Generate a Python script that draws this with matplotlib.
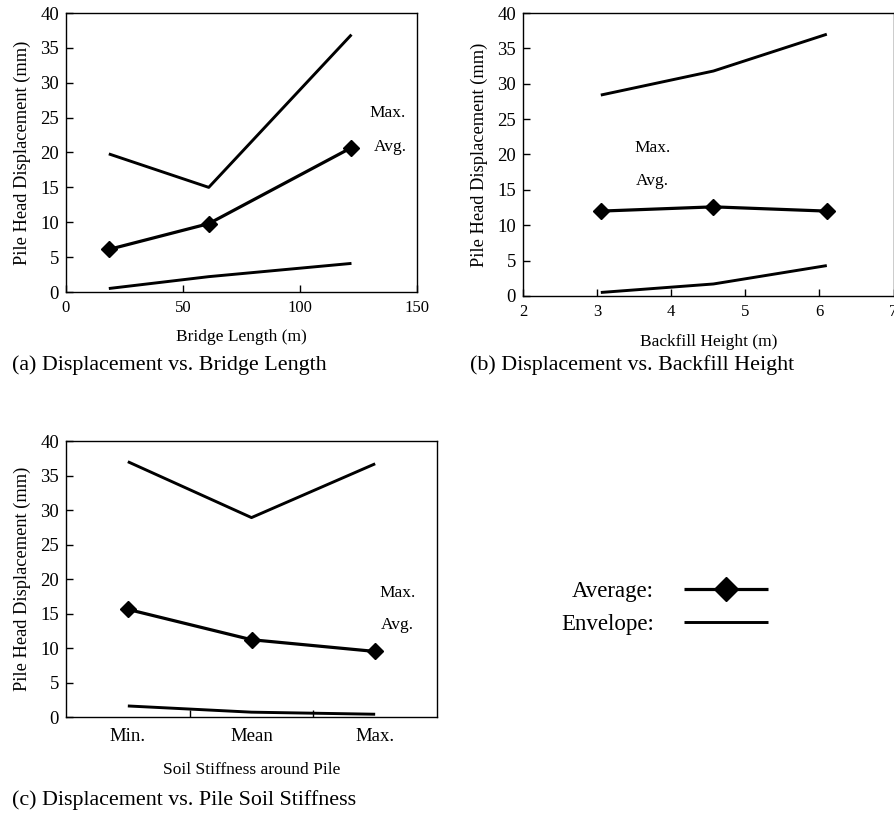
import matplotlib.pyplot as plt

plt.rcParams['font.family'] = ['Liberation Serif', 'DejaVu Serif']

# bridge length study
length_m = [18.3, 61.0, 122.0]
length_max = [19.8, 15.0, 36.9]
length_avg = [6.1, 9.8, 20.7]
length_min = [0.5, 2.2, 4.1]

# backfill height study
backfill_m = [3.05, 4.57, 6.1]
backfill_max = [28.4, 31.8, 37.0]
backfill_avg = [12.0, 12.6, 12.0]
backfill_min = [0.5, 1.7, 4.3]

# soil stiffness around pile
stiffness_cats = ['Min.', 'Mean', 'Max.']
stiffness_max = [37.0, 28.9, 36.7]
stiffness_avg = [15.6, 11.2, 9.5]
stiffness_min = [1.6, 0.7, 0.4]

W, H = 894, 813
fig = plt.figure(figsize=(W / 100, H / 100), dpi=100)


def box(l, t, r, b):
    # pixel box -> figure fraction rect
    return [l / W, 1 - b / H, (r - l) / W, (b - t) / H]


def draw(ax, x, mx, avg, mn):
    env, = ax.plot(x, mx, color='black', lw=2.1, solid_capstyle='butt')
    ax.plot(x, mn, color='black', lw=2.1, solid_capstyle='butt')
    av, = ax.plot(x, avg, color='black', lw=2.3, marker='D', ms=8,
                  solid_capstyle='butt')
    ax.set_ylim(0, 40)
    ax.set_yticks(range(0, 41, 5))
    ax.tick_params(axis='y', direction='in', length=5, width=1, pad=5,
                   labelsize=13.5, right=False)
    ax.tick_params(axis='x', direction='in', length=5, width=1, labelsize=12,
                   top=False, pad=6)
    ax.set_ylabel('Pile Head Displacement (mm)', fontsize=13.2, labelpad=7)
    for s in ax.spines.values():
        s.set_linewidth(1.0)
    return av, env


ax_a = fig.add_axes(box(66, 13, 417, 292))
draw(ax_a, length_m, length_max, length_avg, length_min)
ax_a.set_xlim(0, 150)
ax_a.set_xticks([0, 50, 100, 150])
ax_a.set_xlabel('Bridge Length (m)', fontsize=12.5, labelpad=9)
ax_a.text(137.5, 25.7, 'Max.', fontsize=12.5, ha='center', va='center')
ax_a.text(138.5, 20.8, 'Avg.', fontsize=12.5, ha='center', va='center')

ax_b = fig.add_axes(box(523, 13, 893.5, 296))
draw(ax_b, backfill_m, backfill_max, backfill_avg, backfill_min)
ax_b.set_xlim(2, 7)
ax_b.set_xticks(range(2, 8))
ax_b.set_xlabel('Backfill Height (m)', fontsize=12.5, labelpad=10)
ax_b.text(3.75, 20.9, 'Max.', fontsize=12.5, ha='center', va='center')
ax_b.text(3.75, 16.3, 'Avg.', fontsize=12.5, ha='center', va='center')

ax_c = fig.add_axes(box(66, 441, 437, 717))
pos = range(1, len(stiffness_cats) + 1)
avg_line, env_line = draw(ax_c, list(pos), stiffness_max, stiffness_avg, stiffness_min)
ax_c.set_xlim(0.5, 3.5)
ax_c.set_xticks(list(pos))
ax_c.set_xticklabels(stiffness_cats)
ax_c.set_xticks([1.5, 2.5], minor=True)
ax_c.tick_params(axis='x', which='major', length=0, pad=8, labelsize=13.5)
ax_c.tick_params(axis='x', which='minor', direction='in', length=5, width=1)
ax_c.set_xlabel('Soil Stiffness around Pile', fontsize=12.5, labelpad=12)
ax_c.text(3.18, 18.0, 'Max.', fontsize=12.5, ha='center', va='center')
ax_c.text(3.18, 13.3, 'Avg.', fontsize=12.5, ha='center', va='center')

# panel captions
cap = dict(fontsize=15.8, ha='left', va='center')
fig.text(12 / W, 1 - 365 / H, '(a) Displacement vs. Bridge Length', **cap)
fig.text(470 / W, 1 - 365 / H, '(b) Displacement vs. Backfill Height', **cap)
fig.text(12 / W, 1 - 800 / H, '(c) Displacement vs. Pile Soil Stiffness', **cap)

fig.legend([avg_line, env_line], ['Average:', 'Envelope:'],
           loc='upper left', bbox_to_anchor=(561 / W, 1 - 581 / H),
           frameon=False, markerfirst=False, fontsize=16.5,
           handlelength=3.7, handletextpad=1.3, labelspacing=0.5,
           markerscale=1.55, borderpad=0, borderaxespad=0)

fig.savefig('out.png', dpi=100)
